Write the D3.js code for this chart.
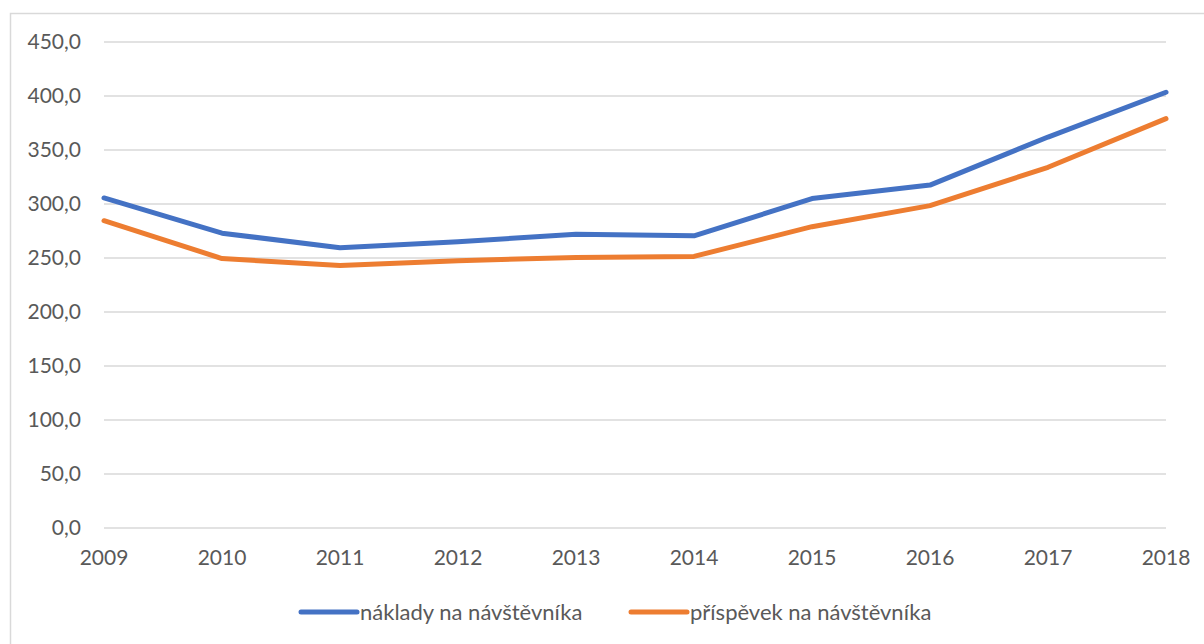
<!DOCTYPE html>
<html>
<head>
<meta charset="utf-8">
<script src="https://cdn.jsdelivr.net/npm/d3@7"></script>
<style>
  body { margin: 0; background: #fff; }
  text { font-family: Lato, "Open Sans", sans-serif; fill: #595959; }
</style>
</head>
<body>
<svg id="chart"></svg>
<script>
const width = 1204;
const height = 644;

// data
const years = ['2009', '2010', '2011', '2012', '2013', '2014', '2015', '2016', '2017', '2018'];
const naklady = [305.6, 273.0, 259.5, 265.0, 272.0, 270.5, 305.0, 317.5, 362.0, 403.5];
const prispevek = [284.5, 249.5, 243.0, 247.5, 250.5, 251.5, 279.0, 298.5, 334.0, 379.0];
const yTicks = [0, 50, 100, 150, 200, 250, 300, 350, 400, 450];

const seriesNames = ['náklady na návštěvníka', 'příspěvek na návštěvníka'];
const seriesColors = ['#4472C4', '#ED7D31'];

const svg = d3.select('#chart')
            .attr('width', width)
            .attr('height', height);

// outer chart frame
svg.append('rect')
    .attr('x', 10.5).attr('y', 13.5)
    .attr('width', 1300).attr('height', 700)
    .attr('fill', 'none')
    .attr('stroke', '#d9d9d9')
    .attr('stroke-width', 1.5);

const x = d3.scalePoint().domain(years).range([104, 1166]);
const y = d3.scaleLinear().domain([0, 450]).range([528, 42]);

// gridlines
svg.append('g')
    .selectAll('line')
    .data(yTicks)
    .enter()
    .append('line')
    .attr('x1', 104).attr('x2', 1166)
    .attr('y1', d => y(d)).attr('y2', d => y(d))
    .attr('stroke', '#d9d9d9')
    .attr('stroke-width', 1.5);

// y labels
const fmt = d => d3.format('.1f')(d).replace('.', ',');
svg.append('g')
    .selectAll('text')
    .data(yTicks)
    .enter()
    .append('text')
    .attr('x', 81)
    .attr('y', d => y(d))
    .attr('dy', '0.35em')
    .attr('text-anchor', 'end')
    .style('font-size', '21px')
    .text(fmt);

// x labels
svg.append('g')
    .selectAll('text')
    .data(years)
    .enter()
    .append('text')
    .attr('x', d => x(d))
    .attr('y', 558)
    .attr('dy', '0.35em')
    .attr('text-anchor', 'middle')
    .style('font-size', '21px')
    .text(d => d);

const line = d3.line()
    .x((d, i) => x(years[i]))
    .y(d => y(d));

[naklady, prispevek].forEach((vals, i) => {
    svg.append('path')
        .datum(vals)
        .attr('d', line)
        .attr('fill', 'none')
        .attr('stroke', seriesColors[i])
        .attr('stroke-width', 5)
        .attr('stroke-linejoin', 'round')
        .attr('stroke-linecap', 'round');
});

// legend
const legendX = [301, 631];
const legend = svg.append('g')
    .selectAll('g')
    .data(seriesNames)
    .enter()
    .append('g')
    .attr('transform', (d, i) => `translate(${legendX[i]}, 612)`);

legend.append('line')
    .attr('x1', 0).attr('x2', 56)
    .attr('stroke', (d, i) => seriesColors[i])
    .attr('stroke-width', 5)
    .attr('stroke-linecap', 'round');

legend.append('text')
    .attr('x', 59)
    .attr('dy', '0.35em')
    .style('font-size', '22px')
    .text(d => d);
</script>
</body>
</html>
